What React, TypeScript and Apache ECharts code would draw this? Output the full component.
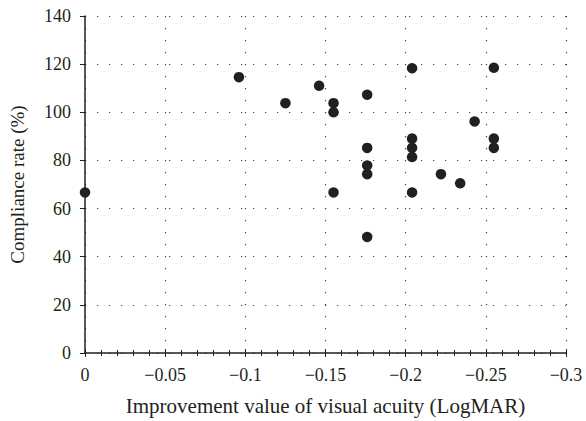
import React, { useEffect, useRef } from "react";
import * as echarts from "echarts";

const xValues = [0, -0.096, -0.125, -0.146, -0.155, -0.155, -0.155, -0.176, -0.176, -0.176, -0.176, -0.176, -0.204, -0.204, -0.204, -0.204, -0.204, -0.222, -0.234, -0.243, -0.255, -0.255, -0.255];
const yValues = [66.7, 114.6, 103.8, 111.0, 103.8, 100.0, 66.7, 107.3, 85.2, 77.9, 74.3, 48.2, 118.3, 89.1, 85.2, 81.4, 66.7, 74.3, 70.5, 96.2, 118.5, 89.1, 85.2];
const xTickLabels = ["0", "\u22120.05", "\u22120.1", "\u22120.15", "\u22120.2", "\u22120.25", "\u22120.3"];
const yTickLabels = ["0", "20", "40", "60", "80", "100", "120", "140"];

const FONT = "'Liberation Serif', 'DejaVu Serif', serif";

export default function App() {
  const ref = useRef<HTMLDivElement>(null);
  useEffect(() => {
    document.body.style.margin = "0";
    const chart = echarts.init(ref.current!, null, { renderer: "svg" });
    const grid = { left: 85, right: 20, top: 16, bottom: 68 };
    const dotted = { color: "#444", width: 1.2, type: [1.2, 10.8] as any };
    chart.setOption({
      animation: false,
      backgroundColor: "#fff",
      grid,
      xAxis: [
        {
          type: "value",
          min: -0.3,
          max: 0,
          interval: 0.05,
          inverse: true,
          name: "Improvement value of visual acuity (LogMAR)",
          nameLocation: "middle",
          nameGap: 42,
          nameTextStyle: { fontFamily: FONT, fontSize: 21, color: "#231f20" },
          axisLine: { show: true, onZero: false, lineStyle: { color: "#231f20", width: 1.5 } },
          axisTick: { show: true, inside: false, length: 4, lineStyle: { color: "#231f20", width: 1 } },
          minorTick: { show: true, splitNumber: 5, length: 3, lineStyle: { color: "#231f20", width: 1 } },
          axisLabel: {
            fontFamily: FONT,
            fontSize: 18,
            color: "#231f20",
            margin: 13,
            formatter: (v: number) => xTickLabels[Math.round(-v / 0.05)],
          },
          splitLine: { show: true, lineStyle: dotted },
        },
        {
          type: "value",
          min: -0.3,
          max: 0,
          interval: 0.05,
          inverse: true,
          position: "bottom",
          axisLine: { show: false },
          axisTick: { show: true, inside: true, length: 4, lineStyle: { color: "#231f20", width: 1 } },
          minorTick: { show: true, splitNumber: 5, length: 3, lineStyle: { color: "#231f20", width: 1 } },
          axisLabel: { show: false },
          splitLine: { show: false },
        },
      ],
      yAxis: {
        type: "value",
        min: 0,
        max: 140,
        interval: 20,
        name: "Compliance rate (%)",
        nameLocation: "middle",
        nameGap: 58,
        nameTextStyle: { fontFamily: FONT, fontSize: 19, color: "#231f20" },
        axisLine: { show: true, lineStyle: { color: "#231f20", width: 1.5 } },
        axisTick: { show: true, length: 5, lineStyle: { color: "#231f20", width: 1 } },
        axisLabel: {
          fontFamily: FONT,
          fontSize: 18,
          color: "#231f20",
          margin: 14,
          formatter: (v: number) => yTickLabels[Math.round(v / 20)],
        },
        splitLine: { show: true, lineStyle: dotted },
      },
      series: [
        {
          type: "scatter",
          xAxisIndex: 0,
          data: xValues.map((x, i) => [x, yValues[i]]),
          symbol: "circle",
          symbolSize: 10.5,
          itemStyle: { color: "#231f20", opacity: 1 },
          clip: false,
        },
      ],
    });
    return () => chart.dispose();
  }, []);
  return <div ref={ref} style={{ position: "absolute", left: 0, top: 0, width: 586, height: 421 }} />;
}
